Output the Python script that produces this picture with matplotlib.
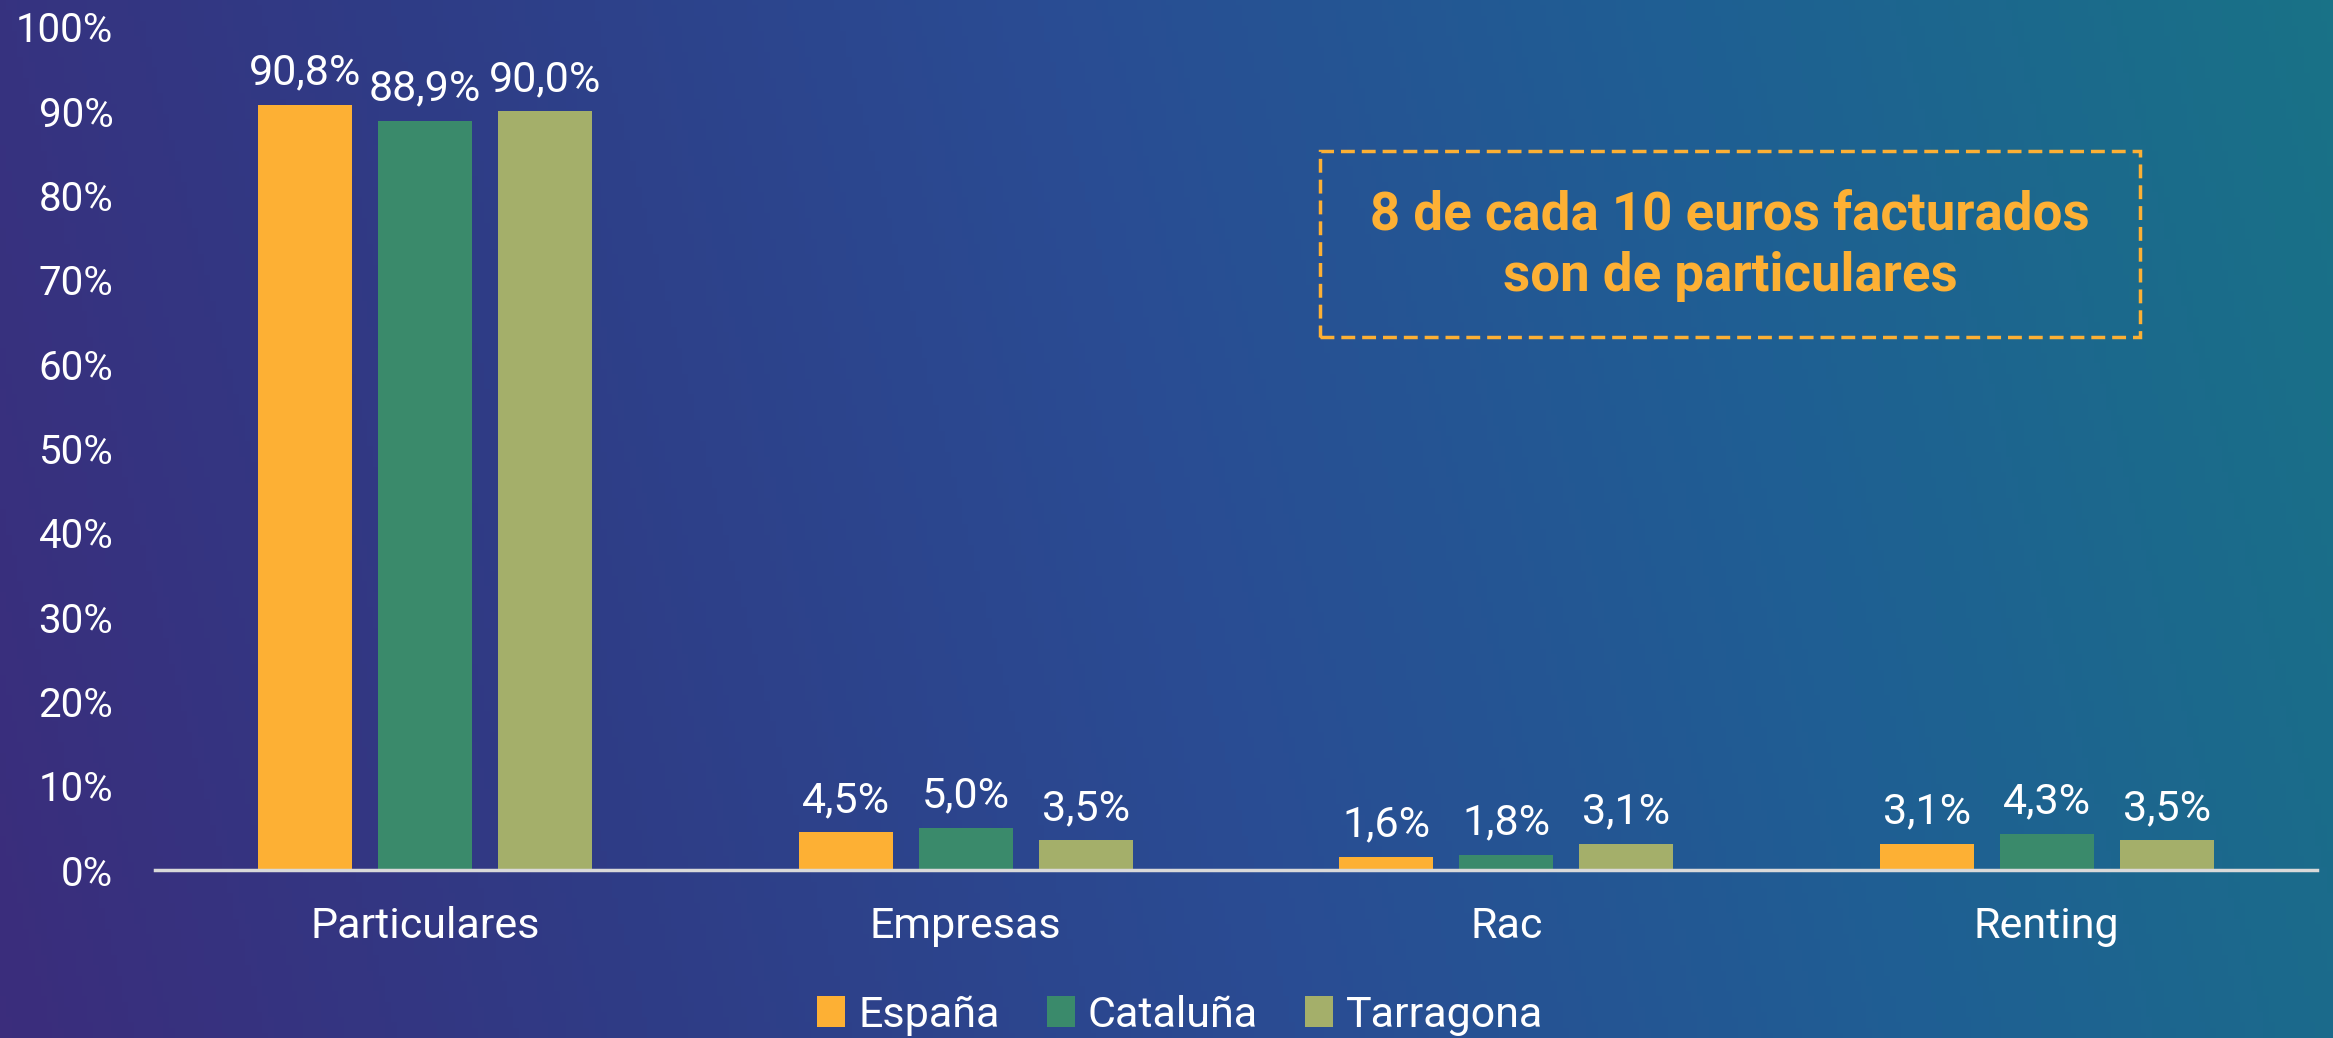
import numpy as np
import matplotlib.pyplot as plt
from matplotlib.colors import LinearSegmentedColormap
from matplotlib.patches import Rectangle

categorias = ["Particulares", "Empresas", "Rac", "Renting"]
series = ["España", "Cataluña", "Tarragona"]
espana = [90.8, 4.5, 1.6, 3.1]
cataluna = [88.9, 5.0, 1.8, 4.3]
tarragona = [90.0, 3.5, 3.1, 3.5]
colores = ["#FDB034", "#3A8A6B", "#A4AF6A"]
yticks = np.arange(0, 101, 10)

plt.rcParams['font.family'] = ['Roboto', 'DejaVu Sans']

fig = plt.figure(figsize=(23.33, 10.38), dpi=100)

# fondo degradado
bg = fig.add_axes([0, 0, 1, 1])
cmap = LinearSegmentedColormap.from_list(
    "fondo", ["#3B2D7C", "#2F3C86", "#2A4C93", "#1F5F93", "#197287"])
gx = np.linspace(0, 1, 400)
gy = np.linspace(0, 1, 200)
GX, GY = np.meshgrid(gx, gy)
grad = np.clip(GX * 0.9 + GY * 0.1, 0, 1)
bg.imshow(grad, cmap=cmap, aspect='auto', extent=[0, 1, 0, 1], origin='lower')
bg.set_axis_off()

ax = fig.add_axes([155/2333, 1 - 870/1038, (2317-155)/2333, (870-27)/1038])
ax.patch.set_alpha(0)

x = np.arange(len(categorias))
w = 0.174
off = 0.222
for i, (vals, nombre) in enumerate(zip([espana, cataluna, tarragona], series)):
    pos = x + (i - 1) * off
    ax.bar(pos, vals, width=w, color=colores[i], label=nombre, zorder=3)
    for px, v in zip(pos, vals):
        ax.annotate(f"{v:.1f}%".replace(".", ","), (px, v), xytext=(0, 8),
                    textcoords='offset points', ha='center', va='bottom',
                    color='white', fontsize=31)

ax.set_xlim(-0.5, 3.5)
ax.set_ylim(0, 100)
ax.set_yticks(yticks)
ax.set_yticklabels([f"{t}%" for t in yticks], color='white', fontsize=29)
ax.set_xticks(x)
ax.set_xticklabels(categorias, color='white', fontsize=31)
ax.tick_params(axis='both', length=0)
ax.tick_params(axis='y', pad=30)
ax.tick_params(axis='x', pad=26)
for s in ['top', 'right', 'left']:
    ax.spines[s].set_visible(False)
ax.spines['bottom'].set_color('#D9D9D9')
ax.spines['bottom'].set_linewidth(2.5)
ax.spines['bottom'].set_zorder(4)

leg = fig.legend(loc='lower center', bbox_to_anchor=(0.506, -0.035), ncol=3,
                 frameon=False, fontsize=31, handlelength=0.65, handleheight=0.75,
                 handletextpad=0.3, columnspacing=1.1)
for t in leg.get_texts():
    t.set_color('white')

# recuadro con mensaje
box = Rectangle((1320/2333, 1 - 337/1038), 820/2333, 186/1038,
                transform=fig.transFigure, fill=False, edgecolor='#FDB034',
                linewidth=2.5, linestyle=(0, (4, 2)))
fig.add_artist(box)
fig.text(1730/2333, 1 - 246/1038, "8 de cada 10 euros facturados\nson de particulares",
         ha='center', va='center', color='#FDB034', fontsize=38,
         fontweight='bold', linespacing=1.25)

fig.savefig("out.png", dpi=100)
